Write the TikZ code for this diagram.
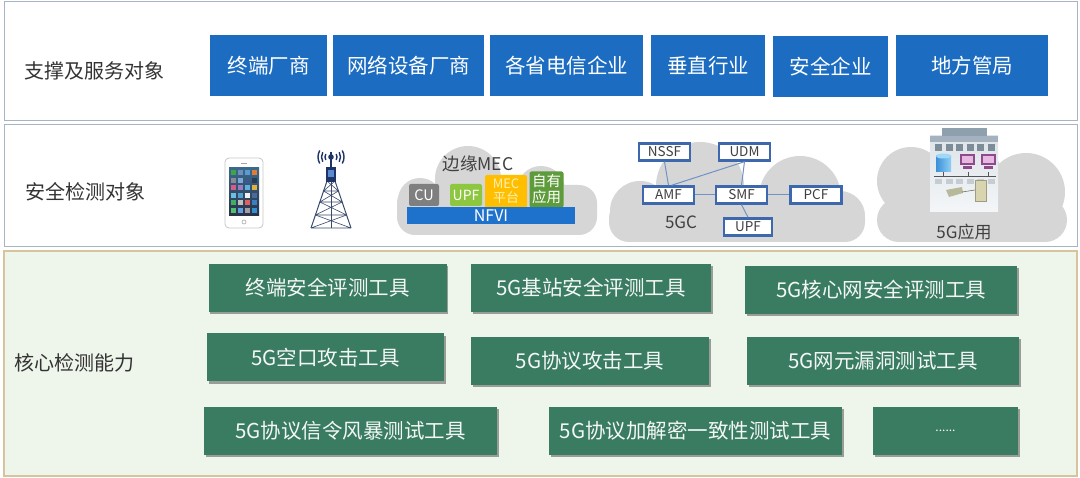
\documentclass[tikz,border=0pt]{standalone}
\usepackage{fontspec}
\setmainfont{Noto Sans CJK SC}
\usetikzlibrary{shadows}
\definecolor{topblue}{HTML}{1C6DC2}
\definecolor{gbox}{HTML}{3A7C62}
\definecolor{ltgreen}{HTML}{EEF5EA}
\definecolor{tanline}{HTML}{D8C49C}
\definecolor{bandline}{HTML}{A7B4C2}
\definecolor{cloudg}{HTML}{D6D6D6}
\definecolor{nfblue}{HTML}{3D68AE}
\definecolor{nfline}{HTML}{6F93C2}
\definecolor{labc}{HTML}{333333}
\definecolor{txtc}{HTML}{404040}
\definecolor{towerc}{HTML}{3A4A6A}
\definecolor{navy}{HTML}{1F3466}
\definecolor{antlight}{HTML}{5A8AD0}
\definecolor{nfvi}{HTML}{1F72CC}
\definecolor{cugray}{HTML}{7F7F7F}
\definecolor{upfg}{HTML}{8DC63F}
\definecolor{mecy}{HTML}{FFBF00}
\definecolor{mect}{HTML}{FFF0B0}
\definecolor{ownG}{HTML}{5E9B3A}
\definecolor{scrtop}{HTML}{3A6A8A}
\definecolor{scrbot}{HTML}{2A3048}
\definecolor{bldtop}{HTML}{DDE3E8}
\definecolor{bldbot}{HTML}{F4F6F8}
\definecolor{bldcap}{HTML}{8E9FAD}
\definecolor{bldband}{HTML}{A3B2BE}
\definecolor{bldsq}{HTML}{7D8C99}
\definecolor{bldsq2}{HTML}{C5CDD4}
\definecolor{cylA}{HTML}{3D8FD8}
\definecolor{cylB}{HTML}{8FD0F5}
\definecolor{cylC}{HTML}{9FD8F8}
\definecolor{monA}{HTML}{8E4A8A}
\definecolor{monB}{HTML}{E7B8E0}
\definecolor{wirec}{HTML}{555555}
\definecolor{devA}{HTML}{B8B89A}
\definecolor{devB}{HTML}{707060}
\definecolor{srvA}{HTML}{D8D4B0}
\definecolor{srvB}{HTML}{A09C80}
\tikzset{
  topbox/.style={fill=topblue, text=white, font=\fontsize{20.5}{24}\selectfont, minimum height=61pt, inner sep=0pt},
  gtool/.style={fill=gbox, text=white!94!gbox, font=\fontsize{20.5}{24}\selectfont, minimum height=48pt, inner sep=0pt,
     drop shadow={shadow xshift=1.5pt, shadow yshift=-2.5pt, opacity=0.45, fill=black!80}},
  bandlabel/.style={text=labc, font=\fontsize{20}{24}\selectfont, anchor=west, inner sep=0pt},
  nf/.style={draw=nfblue, line width=2.4pt, fill=white, text=txtc, font=\fontsize{13.5}{15}\selectfont, minimum width=51pt, minimum height=17pt, inner sep=0pt},
  nflink/.style={draw=nfline, line width=1pt},
  mecpart/.style={rounded corners=2pt, inner sep=0pt, align=center},
}
\begin{document}
\begin{tikzpicture}[x=1pt,y=-1pt]
\useasboundingbox (0,0) rectangle (1080,478);
% bands
\draw[bandline, line width=1pt, fill=white] (4,2) rectangle (1077,121);
\draw[bandline, line width=1pt, fill=white] (4,125) rectangle (1077,247);
\draw[tanline, line width=1.3pt, fill=ltgreen] (4,251) rectangle (1077,476);

% band labels
\node[bandlabel] (l1) at (24,71) {支撑及服务对象};
\node[bandlabel] (l2) at (25,192) {安全检测对象};
\node[bandlabel] (l3) at (14,363) {核心检测能力};

% top boxes
\node[topbox, minimum width=117pt] (t1) at (268.5,66) {终端厂商};
\node[topbox, minimum width=151pt] (t2) at (408.5,66) {网络设备厂商};
\node[topbox, minimum width=153pt] (t3) at (566.5,66) {各省电信企业};
\node[topbox, minimum width=114pt] (t4) at (708,66) {垂直行业};
\node[topbox, minimum width=115pt] (t5) at (830.5,67) {安全企业};
\node[topbox, minimum width=152pt] (t6) at (972,66) {地方管局};

% phone
\draw[black!22, line width=0.8pt, fill=white, rounded corners=4pt] (225,158) rectangle (263,228);
\shade[top color=scrtop, bottom color=scrbot] (229,168) rectangle (259,216);
\foreach \c [count=\k from 0] in {3FA34D,6F8FBF,5B9BD5,E07B39,
  8A8A9A,7FA7D8,3A5A8A,2A3A5A,
  D85C8A,9A7AC0,5BB0E0,E0B040,
  6AC0E0,50A0D0,F0F0F0,4A6A9A,
  40B060,C0C0C0,E06060,3A80C0,
  50C070,60A0E0,A0A0A0,3090D0}{
  \definecolor{tmpc}{HTML}{\c}
  \pgfmathsetmacro{\ix}{mod(\k,4)}
  \pgfmathsetmacro{\iy}{int(\k/4)}
  \fill[tmpc] ({231+\ix*7},{170+\iy*7.6}) rectangle +(5,5);
}
\draw[black!35, line width=0.8pt] (241,163) -- (247,163);
\draw[black!35, line width=0.6pt] (244,222) circle[radius=2];

% tower
\foreach \ya/\yb in {181/191,191/202,202/215,215/228}{
  \pgfmathsetmacro{\wa}{4+(\ya-181)/47*16}
  \pgfmathsetmacro{\wb}{4+(\yb-181)/47*16}
  \draw[towerc, line width=0.6pt] ({331-\wa},\ya) -- ({331+\wb},\yb)
     ({331+\wa},\ya) -- ({331-\wb},\yb)
     ({331-\wb},\yb) -- ({331+\wb},\yb);
}
\draw[towerc, line width=1pt] (327,181) -- (311,228) (335,181) -- (351,228);
\draw[towerc, line width=0.6pt] (331,181) -- (331,228);
\fill[navy] (326,167) rectangle (336,182);
\fill[antlight] (327.8,170) rectangle (334.2,177);
\draw[navy, line width=1.6pt] (331,152) -- (331,167);
\fill[navy] (331,157) circle[radius=2.8];
\foreach \r in {6,9.5,13}{
  \draw[navy, line width=1.4pt] ([shift={(150:\r)}]331,157) arc[start angle=150, end angle=210, radius=\r];
  \draw[navy, line width=1.4pt] ([shift={(-30:\r)}]331,157) arc[start angle=-30, end angle=30, radius=\r];
}

% MEC cloud
\fill[cloudg, rounded corners=18pt] (397,185) rectangle (597,235);
\fill[cloudg] (468,179) circle[radius=33];
\fill[cloudg] (541,190) circle[radius=24];
\fill[cloudg] (420,200) circle[radius=22];
\fill[cloudg] (577,207) circle[radius=19];
\node[text=txtc, font=\fontsize{17.5}{20}\selectfont, inner sep=0pt] (mectitle) at (478,164) {边缘MEC};
\node[mecpart, fill=cugray, text=white, minimum width=30pt, minimum height=22pt, font=\fontsize{14.5}{16}\selectfont] (cu) at (424,195) {CU};
\node[mecpart, fill=upfg, text=white, minimum width=32pt, minimum height=22pt, font=\fontsize{14}{16}\selectfont] (upfm) at (466,195) {UPF};
\node[mecpart, fill=mecy, text=mect, minimum width=42pt, minimum height=33pt, font=\fontsize{13}{14}\selectfont] (mecp) at (506,191.5) {MEC\\平台};
\node[mecpart, fill=ownG, text=white, minimum width=34pt, minimum height=36pt, font=\fontsize{14.5}{16}\selectfont] (own) at (546.5,189.5) {自有\\应用};
\node[fill=nfvi, text=white, minimum width=168pt, minimum height=17pt, inner sep=0pt, font=\fontsize{16}{17}\selectfont] (nfvib) at (491,216) {NFVI};

% 5GC cloud
\fill[cloudg, rounded corners=20pt] (609,198) rectangle (865,242);
\fill[cloudg] (700,186) circle[radius=44];
\fill[cloudg] (800,197) circle[radius=41];
\fill[cloudg] (640,211) circle[radius=30];
\fill[cloudg] (840,216) circle[radius=25];
\node[nf] (nssf) at (664.5,152) {NSSF};
\node[nf] (udm) at (744.5,152) {UDM};
\node[nf] (amf) at (668.5,195) {AMF};
\node[nf] (smf) at (741.5,195) {SMF};
\node[nf] (pcf) at (816,195) {PCF};
\node[nf, minimum width=48pt] (upfc) at (748,227) {UPF};
\draw[nflink] (nssf.south) -- (amf.north);
\draw[nflink] (udm.south) -- ([xshift=3pt]amf.north);
\draw[nflink] (udm.south) -- (smf.north);
\draw[nflink] (amf.east) -- (smf.west);
\draw[nflink] (smf.east) -- (pcf.west);
\draw[nflink] (smf.south) -- (upfc.north);
\node[text=txtc, font=\fontsize{17}{19}\selectfont, inner sep=0pt] (gc) at (681,222) {5GC};

% 5G app cloud
\fill[cloudg, rounded corners=22pt] (877,198) rectangle (1067,242);
\fill[cloudg] (911,181) circle[radius=34];
\fill[cloudg] (962,178) circle[radius=40];
\fill[cloudg] (1026,192) circle[radius=39];
% building
\shade[top color=bldtop, bottom color=bldbot] (930,136) rectangle (998,212);
\fill[bldcap] (942,128) rectangle (987,140);
\fill[bldband] (930,136) rectangle (998,142);
\foreach \i in {0,...,5}{ \fill[bldsq] ({935+\i*10.5},144) rectangle +(7,7); }
\foreach \i in {0,...,5}{ \fill[bldsq2] ({935+\i*10.5},179) rectangle +(7,5); }
\shade[left color=cylA, right color=cylB] (936,156) rectangle (951,172);
\fill[cylC] (943.5,156) ellipse[x radius=7.5, y radius=2.5];
\foreach \mx in {960,981}{
  \fill[monA] (\mx,154) rectangle +(15,11);
  \fill[monB] ({\mx+2},156) rectangle +(11,7);
  \fill[monA] ({\mx+3},166) rectangle +(9,3);
}
\draw[wirec, line width=0.7pt] (934,176) -- (996,176);
\foreach \px in {943.5,968,988}{ \draw[wirec, line width=0.6pt] (\px,172) -- (\px,176); }
\fill[devA] (946,190) -- (962,187) -- (963,193) -- (949,197) -- cycle;
\draw[devB, line width=0.6pt] (962,192) -- (975,190);
\fill[srvA] (975,180) rectangle (986,201);
\draw[srvB, line width=0.5pt] (975,180) rectangle (986,201);
\node[text=txtc, font=\fontsize{17}{19}\selectfont, inner sep=0pt] (app) at (964,232) {5G应用};

% tool boxes
\node[gtool, minimum width=238pt] (g1) at (327.5,288) {终端安全评测工具};
\node[gtool, minimum width=240pt] (g2) at (591,288) {5G基站安全评测工具};
\node[gtool, minimum width=272pt] (g3) at (881,290) {5G核心网安全评测工具};
\node[gtool, minimum width=237pt] (g4) at (325.5,357.5) {5G空口攻击工具};
\node[gtool, minimum width=238pt] (g5) at (590,361) {5G协议攻击工具};
\node[gtool, minimum width=272pt] (g6) at (883,361) {5G网元漏洞测试工具};
\node[gtool, minimum width=293pt] (g7) at (350.5,431) {5G协议信令风暴测试工具};
\node[gtool, minimum width=293pt] (g8) at (695.5,431) {5G协议加解密一致性测试工具};
\node[gtool, minimum width=145pt, font=\fontsize{12}{14}\selectfont] (g9) at (945.5,431) {......};
\end{tikzpicture}
\end{document}
